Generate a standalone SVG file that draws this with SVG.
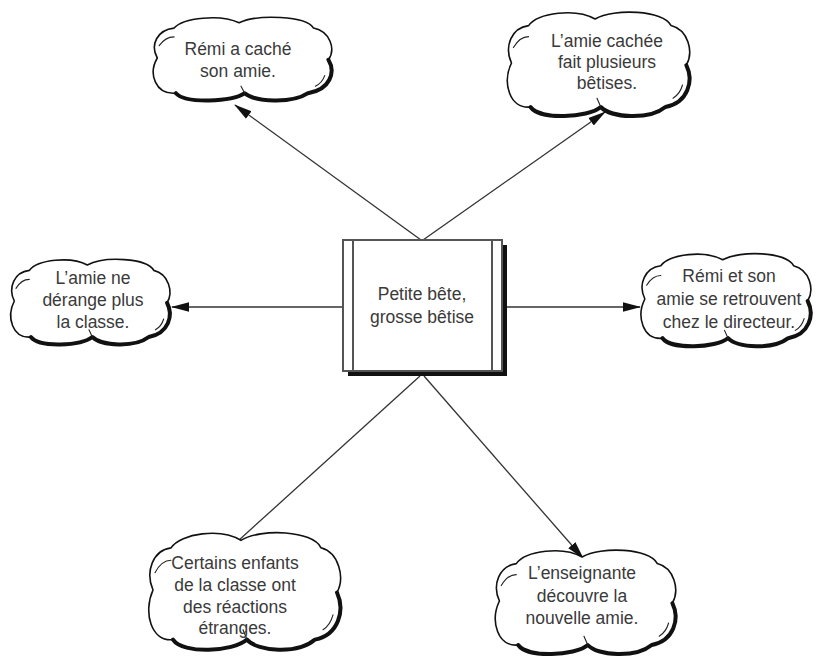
<svg xmlns="http://www.w3.org/2000/svg" width="817" height="658" viewBox="0 0 817 658">
<style>
  .cloud-outline{fill:#fff;stroke:#111;stroke-width:1.6;vector-effect:non-scaling-stroke;stroke-linejoin:round}
  .cloud-shadow{fill:none;stroke:#111;stroke-width:4;vector-effect:non-scaling-stroke;stroke-linecap:round;stroke-linejoin:round}
  .tick{fill:none;stroke:#222;stroke-width:1.1;vector-effect:non-scaling-stroke;stroke-linecap:round}
  .lbl{font-family:"Liberation Sans",Arial,sans-serif;font-size:17.5px;fill:#3a3a3a;text-anchor:middle}
  .conn{stroke:#333;stroke-width:1.3;fill:none}
</style>
<defs>
  <marker id="arr" markerUnits="userSpaceOnUse" markerWidth="20" markerHeight="12" refX="17" refY="5" orient="auto">
    <path d="M0,0.3 L18,5 L0,9.7 Z" fill="#111"/>
  </marker>
  <g id="cloudShape">
    <path class="cloud-outline" d="M10,50 C2,35 10,18 28,16 C38,4 78,0 98,10 C118,0 170,2 178,16 C196,20 202,40 194,52 C202,66 196,86 172,90 C155,102 115,100 104,90 C90,100 40,102 30,90 C8,92 0,68 10,50 Z"/>
    <path class="cloud-shadow" d="M194,52 C202,66 196,86 172,90 C155,102 115,100 104,90 C90,100 40,102 30,90"/>
    <path class="tick" d="M12,36 C16,30 22,26 28,26"/>
    <path class="tick" d="M190,70 C188,76 184,80 180,82"/>
    <path class="tick" d="M104,90 L100,82"/>
  </g>
</defs>
<rect width="817" height="658" fill="#fff"/>

<g id="connectors">
  <line class="conn" x1="421" y1="240" x2="235" y2="105" marker-end="url(#arr)"/>
  <line class="conn" x1="423" y1="240" x2="605" y2="112" marker-end="url(#arr)"/>
  <line class="conn" x1="343" y1="307" x2="172" y2="307" marker-end="url(#arr)"/>
  <line class="conn" x1="507" y1="307" x2="640" y2="307" marker-end="url(#arr)"/>
  <line class="conn" x1="420" y1="376" x2="238" y2="541"/>
  <line class="conn" x1="424" y1="376" x2="583" y2="558" marker-end="url(#arr)"/>
</g>

<g id="center">
  <rect x="348" y="245" width="159" height="131" fill="#111"/>
  <rect x="343" y="240" width="159" height="131" fill="#fff" stroke="#555" stroke-width="2"/>
  <line x1="353" y1="240" x2="353" y2="371" stroke="#555" stroke-width="2"/>
  <line x1="492" y1="240" x2="492" y2="371" stroke="#555" stroke-width="2"/>
  <text class="lbl" x="422" y="300">Petite bête,</text>
  <text class="lbl" x="422" y="323">grosse bêtise</text>
</g>

<g id="n1">
  <use href="#cloudShape" transform="translate(148,14) scale(0.93,0.88)"/>
  <text class="lbl" x="238" y="55">Rémi a caché</text>
  <text class="lbl" x="238" y="77">son amie.</text>
</g>

<g id="n2">
  <use href="#cloudShape" transform="translate(502,8) scale(0.95,1.1)"/>
  <text class="lbl" x="607" y="47">L’amie cachée</text>
  <text class="lbl" x="607" y="68">fait plusieurs</text>
  <text class="lbl" x="607" y="89">bêtises.</text>
</g>

<g id="n3">
  <use href="#cloudShape" transform="translate(6,256) scale(0.83,0.9)"/>
  <text class="lbl" x="93" y="284">L’amie ne</text>
  <text class="lbl" x="93" y="306">dérange plus</text>
  <text class="lbl" x="93" y="328">la classe.</text>
</g>

<g id="n4">
  <use href="#cloudShape" transform="translate(636,250) scale(0.885,0.98)"/>
  <text class="lbl" x="729" y="282">Rémi et son</text>
  <text class="lbl" x="729" y="305">amie se retrouvent</text>
  <text class="lbl" x="729" y="328">chez le directeur.</text>
</g>

<g id="n5">
  <use href="#cloudShape" transform="translate(143,528) scale(1.0,1.24)"/>
  <text class="lbl" x="235" y="569">Certains enfants</text>
  <text class="lbl" x="235" y="591">de la classe ont</text>
  <text class="lbl" x="235" y="613">des réactions</text>
  <text class="lbl" x="235" y="634">étranges.</text>
</g>

<g id="n6">
  <use href="#cloudShape" transform="translate(490,546) scale(0.94,1.1)"/>
  <text class="lbl" x="582" y="579">L’enseignante</text>
  <text class="lbl" x="582" y="602">découvre la</text>
  <text class="lbl" x="582" y="624">nouvelle amie.</text>
</g>
</svg>
